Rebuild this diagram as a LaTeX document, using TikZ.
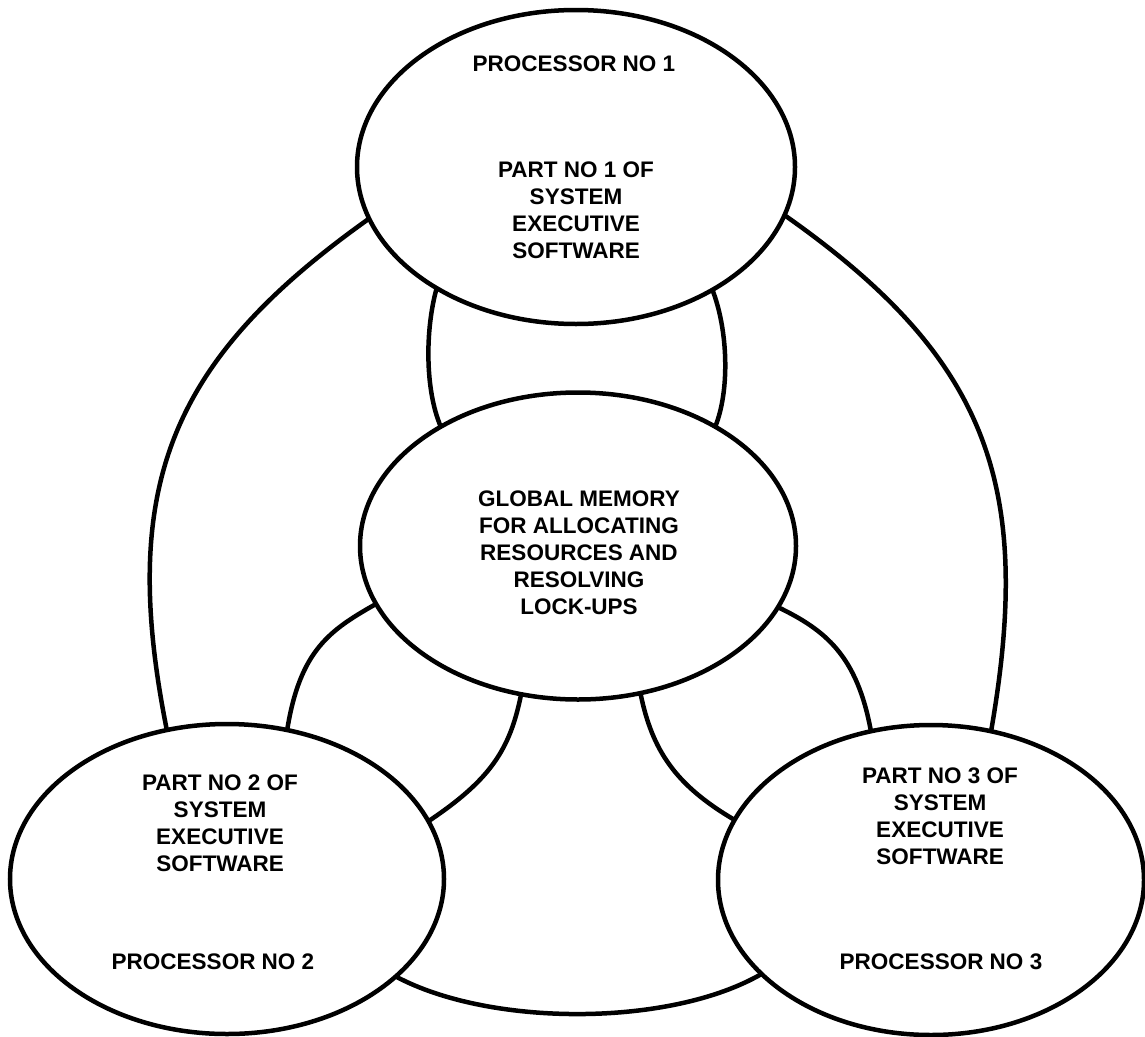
\documentclass[tikz,border=0pt]{standalone}
\usepackage{fontspec}
\setmainfont{Liberation Sans}
\usetikzlibrary{shapes.geometric}
\begin{document}
\begin{tikzpicture}[x=1pt,y=1pt,
  blob/.style={ellipse, draw, line width=4.5pt, inner sep=0pt, outer sep=0pt},
  lbl/.style={align=center, inner sep=0pt, font=\fontsize{22.5}{27}\selectfont\bfseries},
  link/.style={line width=4.5pt}]
\useasboundingbox (0,0) rectangle (1145,-1036);
% ellipses
\node[blob, minimum width=438pt, minimum height=314pt] (T) at (576,-167) {};
\node[blob, minimum width=436pt, minimum height=307pt] (C) at (578,-546) {};
\node[blob, minimum width=434pt, minimum height=310pt] (L) at (227,-879) {};
\node[blob, minimum width=426pt, minimum height=310pt] (R) at (931,-880) {};
% texts
\node[lbl] (tproc) at (574,-63.5) {PROCESSOR NO 1};
\node[lbl] (tpart) at (576,-210.5) {PART NO 1 OF\\SYSTEM\\EXECUTIVE\\SOFTWARE};
\node[lbl] (cmem) at (579,-553) {GLOBAL MEMORY\\FOR ALLOCATING\\RESOURCES AND\\RESOLVING\\LOCK-UPS};
\node[lbl] (lpart) at (220,-823.5) {PART NO 2 OF\\SYSTEM\\EXECUTIVE\\SOFTWARE};
\node[lbl] (lproc) at (213,-962) {PROCESSOR NO 2};
\node[lbl] (rpart) at (940,-816) {PART NO 3 OF\\SYSTEM\\EXECUTIVE\\SOFTWARE};
\node[lbl] (rproc) at (941,-962) {PROCESSOR NO 3};
% connectors
\draw[link] (T.194) .. controls (170,-360) and (118,-486) .. (L.112);
\draw[link] (T.347) .. controls (988,-358) and (1034,-485) .. (R.68);
\draw[link] (T.221.5) .. controls (425,-330) and (425,-390) .. (C.139);
\draw[link] (T.318) .. controls (728,-330) and (730,-390) .. (C.41.3);
\draw[link] (C.196) .. controls (330,-630) and (300,-650) .. (L.68);
\draw[link] (C.249) .. controls (510,-750) and (490,-780) .. (L.16.5);
\draw[link] (C.343.7) .. controls (825,-630) and (857,-655) .. (R.112.8);
\draw[link] (C.293.3) .. controls (652,-750) and (675,-785) .. (R.163);
\draw[link] (L.330) .. controls (490,-1027) and (670,-1027) .. (R.209.5);
\end{tikzpicture}
\end{document}
